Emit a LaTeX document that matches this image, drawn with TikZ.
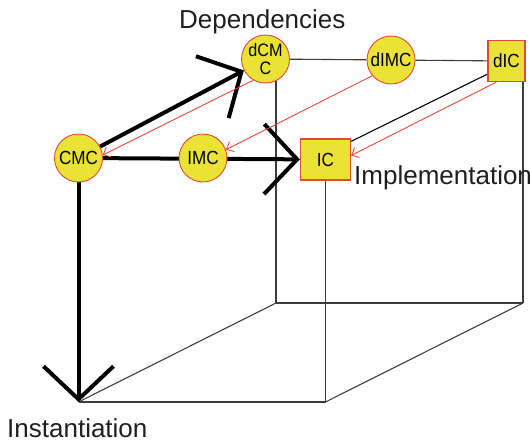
\documentclass[tikz,border=0pt]{standalone}
\usepackage{fontspec}
\setmainfont{Liberation Sans}
\newfontfamily\nodefont[FakeStretch=0.9]{Liberation Sans}
\usetikzlibrary{arrows.meta}
\pgfdeclarelayer{bg}
\pgfsetlayers{bg,main}
\definecolor{nodeyellow}{RGB}{234,226,52}
\definecolor{nodered}{RGB}{228,72,56}
\definecolor{edgegray}{RGB}{60,60,60}
\begin{document}
\begin{tikzpicture}[x=1pt,y=-1pt,
 cnode/.style={circle,draw=nodered,fill=nodeyellow,line width=0.9pt,minimum size=48pt,inner sep=0pt,font=\nodefont\fontsize{19}{17}\selectfont,align=center},
 rnode/.style={rectangle,draw=nodered,fill=nodeyellow,line width=1.2pt,inner sep=0pt,minimum height=41pt,font=\nodefont\fontsize{19}{17}\selectfont},
 lbl/.style={font=\fontsize{26}{30}\selectfont,text=black!88,inner sep=0pt,anchor=base west},
 cube/.style={draw=edgegray,line width=1.1pt},
 bigarrow/.style={line width=4pt,-{Straight Barb[length=33pt,width=70pt]}},
 dep/.style={draw=nodered,line width=0.9pt,-{Straight Barb[length=6pt,width=11pt]}}
]
\useasboundingbox (0,0) rectangle (530,442);

% cube corners
\coordinate (fbl) at (78.5,402);
\coordinate (fbr) at (325.5,402);
\coordinate (bbl) at (276,303);
\coordinate (bbr) at (523,303);

% nodes
\node[cnode,font=\nodefont\fontsize{18}{18.5}\selectfont] (dCMC) at (265.5,59) {dCM\\C};
\node[cnode] (dIMC) at (391,60) {dIMC};
\node[rnode,minimum width=37pt] (dIC) at (506.5,61) {dIC};
\node[cnode] (CMC) at (78.5,158) {CMC};
\node[cnode] (IMC) at (203,158) {IMC};
\node[rnode,minimum width=50pt] (IC) at (325.5,159.5) {IC};

% labels
\node[lbl] (dep) at (179,28) {Dependencies};
\node[lbl] (impl) at (354,184) {Implementation};
\node[lbl] (inst) at (7,437) {Instantiation};

\begin{pgfonlayer}{bg}
  % cube edges
  \draw[cube] (dCMC) -- (dIMC);
  \draw[cube] (dIMC) -- (dIC);
  \draw[cube] (bbl) -- (bbl |- dCMC);
  \draw[cube] (bbr) -- (bbr |- dIC);
  \draw[cube] (bbl) -- (bbr);
  \draw[cube] (bbl) -- (fbl);
  \draw[cube] (fbl) -- (fbr);
  \draw[cube] (fbr) -- (bbr);
  \draw[cube] (fbr) -- (IC);
  \draw[draw=black,line width=1.1pt] ([yshift=-3pt]IC.north east) -- ([yshift=8pt]dIC.south west);
  % thick arrows
  \draw[bigarrow] (CMC) -- (dCMC);
  \draw[bigarrow] (CMC) -- (IC);
  \draw[bigarrow] (CMC) -- (fbl);
  % red dependency arrows
  \draw[dep] (dCMC.240) -- (CMC.7);
  \draw[dep] (dIMC.220) -- (IMC.20);
  \draw[dep] ([xshift=9pt]dIC.south west) -- ([yshift=4pt]IC.east);
\end{pgfonlayer}
\end{tikzpicture}
\end{document}
